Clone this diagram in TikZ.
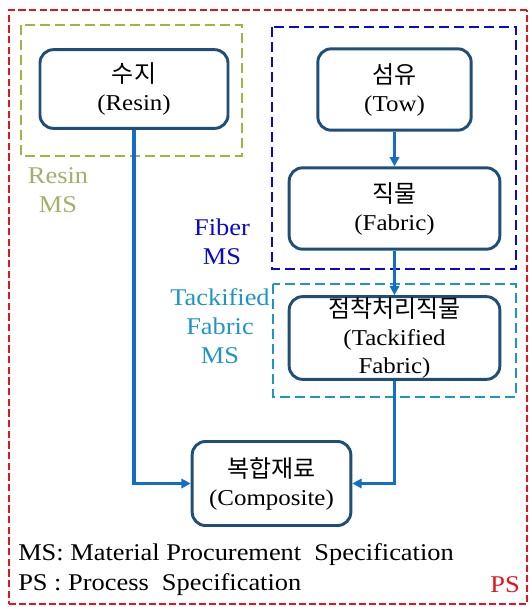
\documentclass[tikz,border=0pt]{standalone}
\usepackage{fontspec}
\setmainfont[FakeStretch=1.1]{Liberation Serif}
\newfontfamily\kr{Noto Sans CJK KR}
\usetikzlibrary{arrows.meta}
\definecolor{boxblue}{RGB}{31,78,121}
\definecolor{flowblue}{RGB}{20,110,200}
\definecolor{psred}{RGB}{228,20,30}
\definecolor{resingreen}{RGB}{160,180,70}
\definecolor{resintext}{RGB}{165,175,105}
\definecolor{fiberblue}{RGB}{10,10,200}
\definecolor{tackcyan}{RGB}{30,150,195}
\tikzset{
	stepbox/.style={draw=boxblue, line width=2.2pt, rounded corners=10pt, fill=white,
		align=center, inner sep=0pt, font=\fontsize{17}{21}\selectfont},
	flow/.style={draw=flowblue, line width=2.3pt, -{Triangle[length=7pt,width=7pt]}},
	msframe/.style={line width=2.2pt, dash pattern=on 7.5pt off 3.75pt},
	mslabel/.style={align=center, inner sep=0pt, font=\fontsize{18}{22}\selectfont}
}
\newcommand{\krtext}[1]{{\kr\fontsize{18}{21}\selectfont #1}}

\begin{document}
\begin{tikzpicture}[x=0.75pt, y=-0.75pt]
		%%%%% START %%%%%
		\useasboundingbox (0, 0) rectangle (531, 607);
		
		% PS frame (thin on the right and bottom)
		\draw[psred, line width=2pt, dash pattern=on 5.5pt off 2.5pt] (527, 10) -- (9, 10) -- (9, 604);
		\draw[psred, line width=0.8pt, dash pattern=on 5pt off 2.5pt] (9, 604) -- (527, 604) -- (527, 10);
		
		% MS frames
		\draw[resingreen, msframe] (21, 25) rectangle (242, 156);
		\draw[fiberblue, msframe] (272, 27) rectangle (516, 269);
		\draw[tackcyan, msframe] (273, 284) rectangle (516, 397);
		
		\node[mslabel, text=resintext] (resinms) at (58, 190) {Resin\\MS};
		\node[mslabel, text=fiberblue] (fiberms) at (222, 242) {Fiber\\MS};
		\node[mslabel, text=tackcyan] (tackms) at (220, 326) {Tackified\\Fabric\\MS};
		
		% process steps
		\node[stepbox, minimum width=141pt, minimum height=59pt] (resin) at (134, 89) {\krtext{수지}\\(Resin)};
		\node[stepbox, minimum width=115pt, minimum height=61pt] (tow) at (394.5, 89.5) {\krtext{섬유}\\(Tow)};
		\node[stepbox, minimum width=158pt, minimum height=61pt] (fabric) at (394.5, 208.5) {\krtext{직물}\\(Fabric)};
		\node[stepbox, minimum width=158pt, minimum height=62pt] (tack) at (394.5, 338) {\krtext{점착처리직물}\\(Tackified\\Fabric)};
		\node[stepbox, minimum width=119pt, minimum height=63pt] (comp) at (271.5, 483.5) {\krtext{복합재료}\\(Composite)};
		
		\draw[flow] (tow) -- (fabric);
		\draw[flow] (fabric) -- (tack);
		\draw[flow] (tack.south) -- (tack.south |- comp.east) -- (comp.east);
		\draw[flow] (resin.south) -- (resin.south |- comp.west) -- (comp.west);
		
		% legend
		\node[anchor=west, inner sep=0pt, font=\fontsize{18}{22}\selectfont] (msnote) at (18, 555) {MS: Material Procurement \ Specification};
		\node[anchor=west, inner sep=0pt, font=\fontsize{18}{22}\selectfont] (psnote) at (18, 585) {PS : Process \ Specification};
		\node[inner sep=0pt, text=psred, font=\fontsize{18}{22}\selectfont] (ps) at (505, 585) {PS};
		%%%%% END %%%%%
\end{tikzpicture}
\end{document}
